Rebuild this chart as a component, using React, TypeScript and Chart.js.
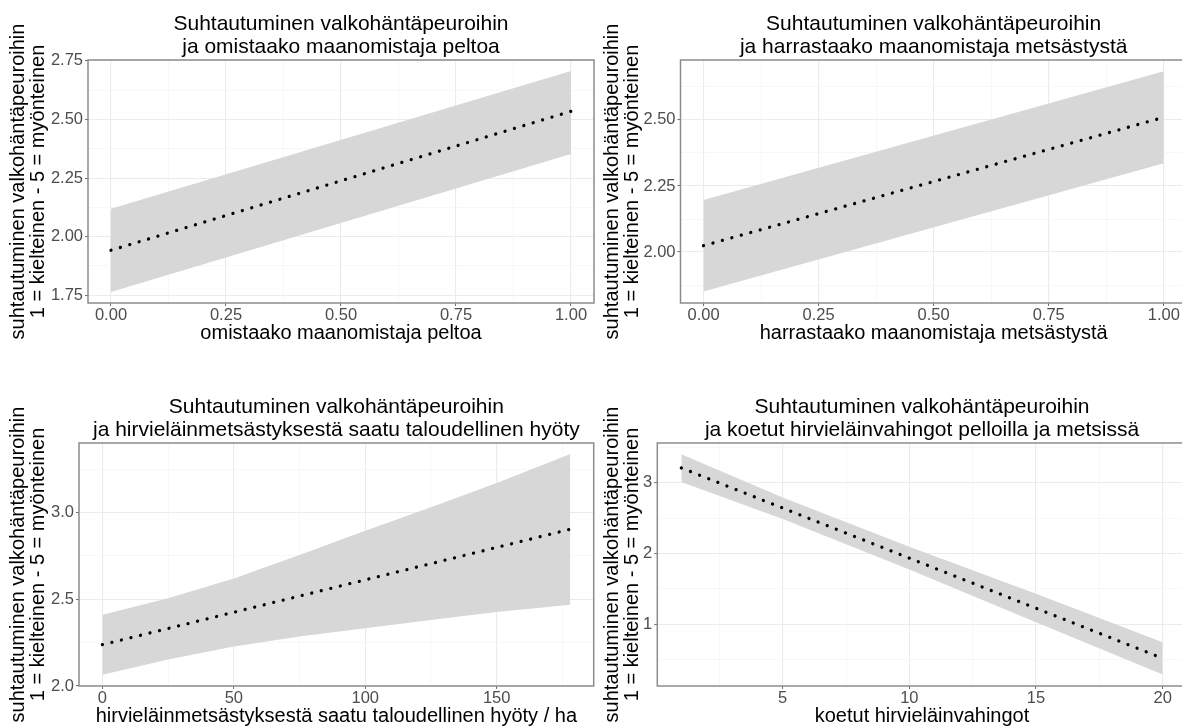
import React, { useEffect, useRef } from 'react';
import { Chart, registerables } from 'chart.js';

Chart.register(...registerables);

// ---------- shared text ----------
const yAxisLabel = ['suhtautuminen valkohäntäpeuroihin', '1 = kielteinen - 5 = myönteinen'];

// ---------- panel 1 ----------
const p1Title = ['Suhtautuminen valkohäntäpeuroihin', 'ja omistaako maanomistaja peltoa'];
const p1XLabel = 'omistaako maanomistaja peltoa';
const p1LineX = [0, 1];
const p1LineY = [1.942, 2.535];
const p1BandX = [0, 1];
const p1Lower = [1.764, 2.353];
const p1Upper = [2.119, 2.707];
const p1XRange = [-0.05, 1.05];
const p1YRange = [1.717, 2.754];
const p1XMajor = [0, 0.25, 0.5, 0.75, 1];
const p1XLabels = ['0.00', '0.25', '0.50', '0.75', '1.00'];
const p1XMinor = [0.125, 0.375, 0.625, 0.875];
const p1YMajor = [1.75, 2.0, 2.25, 2.5, 2.75];
const p1YLabels = ['1.75', '2.00', '2.25', '2.50', '2.75'];
const p1YMinor = [1.875, 2.125, 2.375, 2.625];

// ---------- panel 2 ----------
const p2Title = ['Suhtautuminen valkohäntäpeuroihin', 'ja harrastaako maanomistaja metsästystä'];
const p2XLabel = 'harrastaako maanomistaja metsästystä';
const p2LineX = [0, 1];
const p2LineY = [2.024, 2.51];
const p2BandX = [0, 1];
const p2Lower = [1.851, 2.336];
const p2Upper = [2.197, 2.684];
const p2XRange = [-0.05, 1.05];
const p2YRange = [1.807, 2.727];
const p2XMajor = [0, 0.25, 0.5, 0.75, 1];
const p2XLabels = ['0.00', '0.25', '0.50', '0.75', '1.00'];
const p2XMinor = [0.125, 0.375, 0.625, 0.875];
const p2YMajor = [2.0, 2.25, 2.5];
const p2YLabels = ['2.00', '2.25', '2.50'];
const p2YMinor = [1.875, 2.125, 2.375, 2.625];

// ---------- panel 3 ----------
const p3Title = ['Suhtautuminen valkohäntäpeuroihin', 'ja hirvieläinmetsästyksestä saatu taloudellinen hyöty'];
const p3XLabel = 'hirvieläinmetsästyksestä saatu taloudellinen hyöty / ha';
const p3LineX = [0, 178];
const p3LineY = [2.238, 2.903];
const p3BandX = [0, 25, 50, 75, 100, 125, 150, 178];
const p3Lower = [2.065, 2.152, 2.228, 2.285, 2.333, 2.38, 2.427, 2.468];
const p3Upper = [2.411, 2.505, 2.62, 2.755, 2.895, 3.03, 3.17, 3.336];
const p3XRange = [-8.9, 186.9];
const p3YRange = [2.0, 3.4];
const p3XMajor = [0, 50, 100, 150];
const p3XLabels = ['0', '50', '100', '150'];
const p3XMinor = [25, 75, 125, 175];
const p3YMajor = [2.0, 2.5, 3.0];
const p3YLabels = ['2.0', '2.5', '3.0'];
const p3YMinor = [2.25, 2.75, 3.25];

// ---------- panel 4 ----------
const p4Title = ['Suhtautuminen valkohäntäpeuroihin', 'ja koetut hirvieläinvahingot pelloilla ja metsissä'];
const p4XLabel = 'koetut hirvieläinvahingot';
const p4LineX = [1, 20];
const p4LineY = [3.212, 0.515];
const p4BandX = [1, 5, 10, 15, 20];
const p4Lower = [3.014, 2.49, 1.775, 1.025, 0.285];
const p4Upper = [3.406, 2.795, 2.095, 1.43, 0.742];
const p4XRange = [0.05, 20.95];
const p4YRange = [0.123, 3.566];
const p4XMajor = [5, 10, 15, 20];
const p4XLabels = ['5', '10', '15', '20'];
const p4XMinor = [2.5, 7.5, 12.5, 17.5];
const p4YMajor = [1, 2, 3];
const p4YLabels = ['1', '2', '3'];
const p4YMinor = [0.5, 1.5, 2.5, 3.5];

const FONT = "'Liberation Sans', Arial, Helvetica, sans-serif";
const BAND = '#d7d7d7';

type Spec = {
  title: string[];
  xLabel: string;
  lineX: number[];
  lineY: number[];
  bandX: number[];
  lower: number[];
  upper: number[];
  xRange: number[];
  yRange: number[];
  xMajor: number[];
  xLabels: string[];
  xMinor: number[];
  yMajor: number[];
  yLabels: string[];
  yMinor: number[];
};

type Geom = { left: number; top: number; width: number; height: number; yAxisW: number; plotW: number };

const specs: Spec[] = [
  { title: p1Title, xLabel: p1XLabel, lineX: p1LineX, lineY: p1LineY, bandX: p1BandX, lower: p1Lower, upper: p1Upper, xRange: p1XRange, yRange: p1YRange, xMajor: p1XMajor, xLabels: p1XLabels, xMinor: p1XMinor, yMajor: p1YMajor, yLabels: p1YLabels, yMinor: p1YMinor },
  { title: p2Title, xLabel: p2XLabel, lineX: p2LineX, lineY: p2LineY, bandX: p2BandX, lower: p2Lower, upper: p2Upper, xRange: p2XRange, yRange: p2YRange, xMajor: p2XMajor, xLabels: p2XLabels, xMinor: p2XMinor, yMajor: p2YMajor, yLabels: p2YLabels, yMinor: p2YMinor },
  { title: p3Title, xLabel: p3XLabel, lineX: p3LineX, lineY: p3LineY, bandX: p3BandX, lower: p3Lower, upper: p3Upper, xRange: p3XRange, yRange: p3YRange, xMajor: p3XMajor, xLabels: p3XLabels, xMinor: p3XMinor, yMajor: p3YMajor, yLabels: p3YLabels, yMinor: p3YMinor },
  { title: p4Title, xLabel: p4XLabel, lineX: p4LineX, lineY: p4LineY, bandX: p4BandX, lower: p4Lower, upper: p4Upper, xRange: p4XRange, yRange: p4YRange, xMajor: p4XMajor, xLabels: p4XLabels, xMinor: p4XMinor, yMajor: p4YMajor, yLabels: p4YLabels, yMinor: p4YMinor },
];

const geoms: Geom[] = [
  { left: 0, top: 0, width: 604, height: 343, yAxisW: 88, plotW: 506 },
  { left: 594, top: 0, width: 603, height: 343, yAxisW: 86.5, plotW: 506.3 },
  { left: 0, top: 383, width: 604, height: 343, yAxisW: 79, plotW: 514.7 },
  { left: 594, top: 383, width: 603, height: 343, yAxisW: 63.3, plotW: 529.4 },
];

const near = (a: number, b: number) => Math.abs(a - b) < 1e-9;
const inList = (list: number[], v: number) => list.some((m) => near(m, v));

const panelBorder = {
  id: 'panelBorder',
  afterDatasetsDraw(chart: any) {
    const { ctx, chartArea } = chart;
    ctx.save();
    ctx.strokeStyle = '#8c8c8c';
    ctx.lineWidth = 1.5;
    ctx.strokeRect(chartArea.left, chartArea.top, chartArea.right - chartArea.left, chartArea.bottom - chartArea.top);
    ctx.restore();
  },
};

function axisGrid(major: number[]) {
  return {
    drawOnChartArea: true,
    drawTicks: true,
    tickLength: 3,
    tickWidth: 1,
    color: (c: any) => (c.tick && inList(major, c.tick.value) ? '#ebebeb' : '#f3f3f3'),
    lineWidth: (c: any) => (c.tick && inList(major, c.tick.value) ? 1.1 : 0.7),
    tickColor: (c: any) => (c.tick && inList(major, c.tick.value) ? '#6a6a6a' : 'rgba(0,0,0,0)'),
  };
}

function Panel({ spec, geom }: { spec: Spec; geom: Geom }) {
  const ref = useRef<HTMLCanvasElement>(null);
  useEffect(() => {
    const canvas = ref.current;
    if (!canvas) return;
    const rightPad = geom.width - geom.yAxisW - geom.plotW;
    const xTicks = [...spec.xMajor, ...spec.xMinor].sort((a, b) => a - b);
    const yTicks = [...spec.yMajor, ...spec.yMinor].sort((a, b) => a - b);
    const chart = new Chart(canvas, {
      type: 'line',
      data: {
        datasets: [
          {
            label: 'fit',
            data: spec.lineX.map((x, i) => ({ x, y: spec.lineY[i] })),
            borderColor: '#000000',
            borderWidth: 3.3,
            borderDash: [0.001, 9.8],
            borderCapStyle: 'round',
            pointRadius: 0,
            fill: false,
            tension: 0,
          },
          {
            label: 'lower',
            data: spec.bandX.map((x, i) => ({ x, y: spec.lower[i] })),
            borderColor: 'rgba(0,0,0,0)',
            borderWidth: 0,
            pointRadius: 0,
            fill: false,
            tension: 0,
          },
          {
            label: 'upper',
            data: spec.bandX.map((x, i) => ({ x, y: spec.upper[i] })),
            borderColor: 'rgba(0,0,0,0)',
            borderWidth: 0,
            pointRadius: 0,
            backgroundColor: BAND,
            fill: '-1',
            tension: 0,
          },
        ],
      } as any,
      options: {
        responsive: false,
        animation: false,
        devicePixelRatio: 1,
        events: [],
        layout: { padding: { left: 0, top: 0, bottom: 0, right: rightPad } },
        plugins: {
          legend: { display: false },
          tooltip: { enabled: false },
          title: {
            display: true,
            text: spec.title,
            fullSize: false,
            align: 'center',
            color: '#000000',
            font: { family: FONT, size: 21, lineHeight: 1.076, weight: 'normal' },
            padding: { top: 13, bottom: 1.8 },
          },
        },
        scales: {
          x: {
            type: 'linear',
            position: 'bottom',
            min: spec.xRange[0],
            max: spec.xRange[1],
            bounds: 'data',
            afterBuildTicks: (s: any) => {
              s.ticks = xTicks.map((v) => ({ value: v }));
            },
            afterFit: (s: any) => {
              s.height = 40;
            },
            ticks: {
              autoSkip: false,
              maxRotation: 0,
              minRotation: 0,
              padding: 0,
              color: '#4d4d4d',
              font: { family: FONT, size: 16.5, lineHeight: 1.1 },
              callback: (v: any) => {
                const i = spec.xMajor.findIndex((m) => near(m, Number(v)));
                return i >= 0 ? spec.xLabels[i] : '';
              },
            },
            grid: axisGrid(spec.xMajor),
            border: { display: false },
            title: {
              display: true,
              text: spec.xLabel,
              color: '#000000',
              font: { family: FONT, size: 20, lineHeight: 1.0, weight: 'normal' },
              padding: { top: 0, bottom: 0 },
            },
          },
          y: {
            type: 'linear',
            position: 'left',
            min: spec.yRange[0],
            max: spec.yRange[1],
            bounds: 'data',
            afterBuildTicks: (s: any) => {
              s.ticks = yTicks.map((v) => ({ value: v }));
            },
            afterFit: (s: any) => {
              s.width = geom.yAxisW;
            },
            ticks: {
              autoSkip: false,
              padding: 2,
              color: '#4d4d4d',
              font: { family: FONT, size: 16.5, lineHeight: 1.1 },
              callback: (v: any) => {
                const i = spec.yMajor.findIndex((m) => near(m, Number(v)));
                return i >= 0 ? spec.yLabels[i] : '';
              },
            },
            grid: axisGrid(spec.yMajor),
            border: { display: false },
            title: {
              display: true,
              text: yAxisLabel,
              color: '#000000',
              font: { family: FONT, size: 20, lineHeight: 1.0, weight: 'normal' },
              padding: { top: 8.8, bottom: 0 },
            },
          },
        },
      } as any,
      plugins: [panelBorder],
    });
    return () => chart.destroy();
  }, [spec, geom]);

  return (
    <canvas
      ref={ref}
      width={geom.width}
      height={geom.height}
      style={{ position: 'absolute', left: geom.left, top: geom.top, width: geom.width, height: geom.height, display: 'block' }}
    />
  );
}

export default function App() {
  return (
    <div
      style={{
        position: 'absolute',
        left: 0,
        top: 0,
        width: 1182,
        height: 727,
        overflow: 'hidden',
        background: '#ffffff',
      }}
    >
      {specs.map((s, i) => (
        <Panel key={i} spec={s} geom={geoms[i]} />
      ))}
    </div>
  );
}
